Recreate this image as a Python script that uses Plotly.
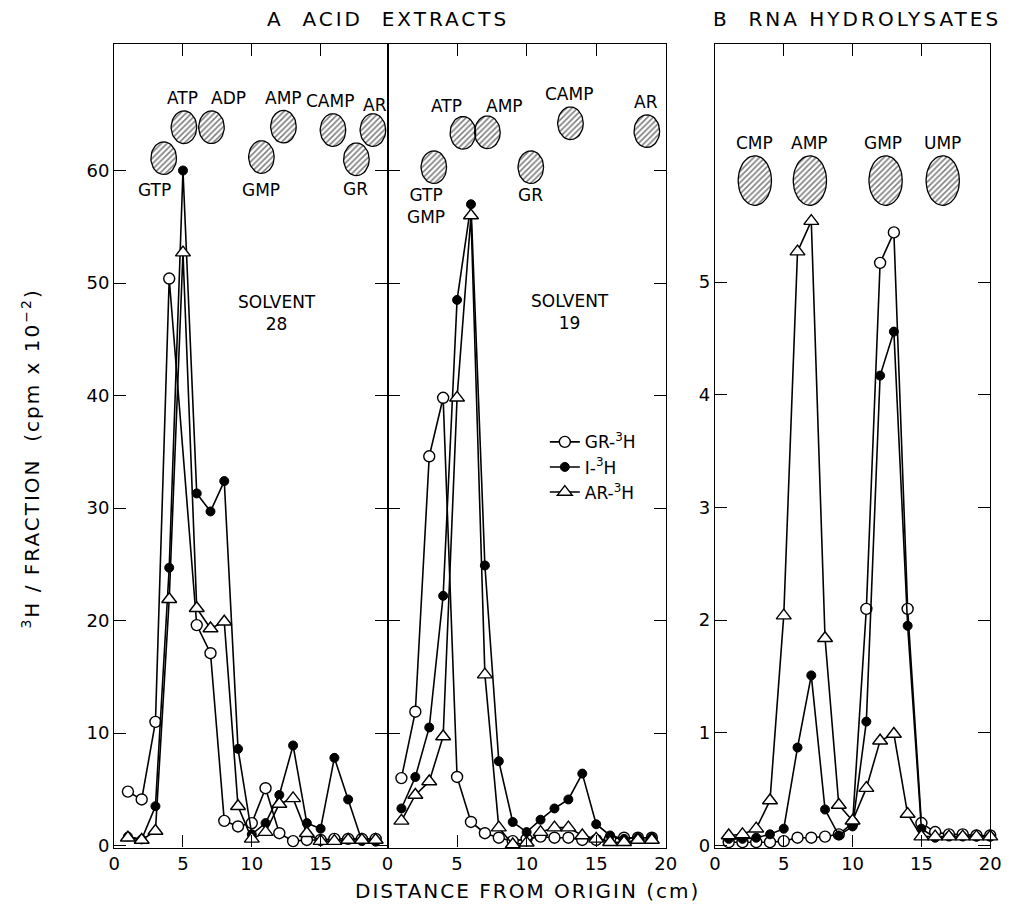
import numpy as np
import plotly.graph_objects as go

# ---------------- data ----------------
# Panel A, solvent 28 (acid extracts), distance from origin (cm)
x_s28 = list(range(1, 20))
gr_s28 = [4.8, 4.1, 11.0, 50.4, None, 19.6, 17.1, 2.2, 1.7, 2.0, 5.1, 1.1, 0.4, 0.5, 0.5, 0.6, 0.6, 0.6, 0.6]
i_s28 = [0.8, 0.55, 3.5, 24.7, 60.0, 31.3, 29.7, 32.4, 8.6, 1.0, 2.0, 4.5, 8.9, 2.0, 1.5, 7.8, 4.1, 0.4, 0.35]
ar_s28 = [0.7, 0.5, 1.3, 21.9, 52.7, 21.1, 19.3, 19.9, 3.5, 0.6, 1.2, 3.7, 4.2, 1.1, 0.4, 0.4, 0.5, 0.5, 0.5]

# Panel A, solvent 19
x_s19 = list(range(1, 20))
gr_s19 = [6.0, 11.9, 34.6, 39.8, 6.1, 2.1, 1.1, 0.7, 0.4, 0.6, 0.8, 0.7, 0.7, 0.5, 0.5, 0.6, 0.7, 0.7, 0.7]
i_s19 = [3.3, 6.1, 10.5, 22.2, 48.5, 57.0, 24.9, 7.5, 2.1, 1.2, 2.3, 3.3, 4.1, 6.4, 1.9, 0.9, 0.6, 0.7, 0.7]
ar_s19 = [2.2, 4.5, 5.7, 9.7, 39.8, 56.0, 15.2, 1.6, 0.1, 0.25, 1.2, 1.6, 1.6, 0.9, 0.6, 0.3, 0.3, 0.5, 0.5]

# Panel B, RNA hydrolysates
x_rna = list(range(1, 21))
gr_rna = [0.03, 0.03, 0.03, 0.03, 0.04, 0.07, 0.07, 0.08, 0.10, 0.20, 2.10, 5.17, 5.44, 2.10, 0.20, 0.12, 0.10, 0.10, 0.09, 0.09]
i_rna = [0.06, 0.06, 0.07, 0.10, 0.15, 0.87, 1.51, 0.32, 0.09, 0.17, 1.10, 4.17, 4.56, 1.95, 0.15, 0.07, 0.08, 0.08, 0.08, 0.08]
ar_rna = [0.09, 0.10, 0.15, 0.40, 2.04, 5.27, 5.54, 1.84, 0.36, 0.22, 0.51, 0.93, 0.99, 0.28, 0.08, 0.08, 0.08, 0.08, 0.08, 0.08]

# Marker spots (standards)
spots_s28_names = ["GTP", "ATP", "ADP", "GMP", "AMP", "CAMP", "GR", "AR"]
spots_s28_x = [3.6, 5.07, 7.07, 10.7, 12.3, 15.9, 17.6, 18.8]
spots_s28_y = [61.1, 63.85, 63.85, 61.2, 63.9, 63.6, 61.0, 63.6]

spots_s19_names = ["GTP<br>GMP", "ATP", "AMP", "GR", "CAMP", "AR"]
spots_s19_x = [3.33, 5.42, 7.18, 10.3, 13.15, 18.64]
spots_s19_y = [60.3, 63.35, 63.4, 60.3, 64.2, 63.5]

spots_rna_names = ["CMP", "AMP", "GMP", "UMP"]
spots_rna_x = [2.9, 6.9, 12.4, 16.55]
spots_rna_y = [5.9, 5.9, 5.9, 5.9]

series_names = ["GR-<sup>3</sup>H", "I-<sup>3</sup>H", "AR-<sup>3</sup>H"]

# label offsets (px) for spot labels
s28_dx = [-9, -1, 17, 0, 0, -3, -1, 2]
s28_dy = [-32, 29, 29, -33, 29, 29, -30, 25]
s19_dx = [-8, -16, 17, 0, -1, -1]
s19_dy = [-39, 27, 26, -28, 29, 29]
rna_dx = [0, 0, -3, 0]
rna_dy = [38, 38, 38, 38]

# ---------------- figure ----------------
W, H = 1015, 922
FONT = "DejaVu Sans"
fig = go.Figure()

marker_styles = [
    dict(symbol="circle", size=11, color="white", line=dict(color="black", width=1.4)),
    dict(symbol="circle", size=9, color="black", line=dict(color="black", width=1)),
    dict(symbol="triangle-up", size=13, color="white", line=dict(color="black", width=1.4)),
]

panels = [
    ("x", "y", x_s28, [gr_s28, i_s28, ar_s28], True),
    ("x2", "y2", x_s19, [gr_s19, i_s19, ar_s19], False),
    ("x3", "y3", x_rna, [gr_rna, i_rna, ar_rna], False),
]
for xa, ya, xs, ys_list, show in panels:
    for k, ys in enumerate(ys_list):
        fig.add_trace(go.Scatter(
            x=xs, y=ys, xaxis=xa, yaxis=ya, mode="lines+markers",
            line=dict(color="black", width=1.6), marker=marker_styles[k],
            connectgaps=True, name=series_names[k], showlegend=show,
            legendrank=k + 1, cliponaxis=False,
        ))


def ellipse_trace(cx_list, cy_list, a, b, xa, ya):
    t = np.linspace(0, 2 * np.pi, 48)
    xs, ys = [], []
    for cx, cy in zip(cx_list, cy_list):
        xs += list(cx + a * np.cos(t)) + [None]
        ys += list(cy + b * np.sin(t)) + [None]
    return go.Scatter(
        x=xs, y=ys, xaxis=xa, yaxis=ya, mode="lines", fill="toself",
        fillcolor="white",
        fillpattern=dict(shape="/", fgcolor="black", bgcolor="white", size=4, solidity=0.4),
        line=dict(color="black", width=1.3), showlegend=False, hoverinfo="skip",
    )


fig.add_trace(ellipse_trace(spots_s28_x, spots_s28_y, 0.93, 1.45, "x", "y"))
fig.add_trace(ellipse_trace(spots_s19_x, spots_s19_y, 0.92, 1.45, "x2", "y2"))
fig.add_trace(ellipse_trace(spots_rna_x, spots_rna_y, 1.21, 0.22, "x3", "y3"))

annotations = []
lab_font = dict(family=FONT, size=17, color="black")
for names, xs, ys, dxs, dys, xr, yr in [
    (spots_s28_names, spots_s28_x, spots_s28_y, s28_dx, s28_dy, "x", "y"),
    (spots_s19_names, spots_s19_x, spots_s19_y, s19_dx, s19_dy, "x2", "y2"),
    (spots_rna_names, spots_rna_x, spots_rna_y, rna_dx, rna_dy, "x3", "y3"),
]:
    for n, x0, y0, dx, dy in zip(names, xs, ys, dxs, dys):
        annotations.append(dict(text=n, x=x0, y=y0, xref=xr, yref=yr, xshift=dx, yshift=dy,
                                showarrow=False, font=lab_font, xanchor="center", yanchor="middle"))

big = dict(family=FONT, size=20, color="black")
annotations += [
    dict(text="SOLVENT<br>28", x=11.8, y=47.3, xref="x", yref="y", showarrow=False,
         font=dict(family=FONT, size=17, color="black")),
    dict(text="SOLVENT<br>19", x=13.1, y=47.4, xref="x2", yref="y2", showarrow=False,
         font=dict(family=FONT, size=17, color="black")),
    dict(text='<span style="letter-spacing:3px">A\u00a0\u00a0ACID\u00a0\u00a0EXTRACTS</span>',
         x=388 / W, y=1 - 19 / H, xref="paper", yref="paper", showarrow=False,
         xanchor="center", yanchor="middle", font=big),
    dict(text='<span style="letter-spacing:3px">B\u00a0\u00a0RNA HYDROLYSATES</span>',
         x=866 / W, y=1 - 19 / H, xref="paper", yref="paper", showarrow=False,
         xanchor="center", yanchor="middle", font=big),
    dict(text='<span style="letter-spacing:2px">DISTANCE FROM ORIGIN (cm)</span>',
         x=530 / W, y=1 - 899 / H, xref="paper", yref="paper", showarrow=False,
         xanchor="center", yanchor="middle", font=big),
    dict(text='<span style="letter-spacing:2px"><sup>3</sup>H / FRACTION  (cpm x 10<sup>\u22122</sup>)</span>',
         x=25 / W, y=1 - 463 / H, xref="paper", yref="paper", showarrow=False, textangle=-90,
         xanchor="center", yanchor="middle", font=big),
]

ydom = [(H - 855) / H, (H - 44) / H]
common = dict(showline=True, linewidth=1.2, linecolor="black", mirror="ticks", ticks="inside",
              ticklen=12, tickwidth=1.2, tickcolor="black", showgrid=False, zeroline=False,
              tickfont=dict(family=FONT, size=18, color="black"))

fig.update_layout(
    width=W, height=H, margin=dict(l=0, r=0, t=0, b=0),
    paper_bgcolor="white", plot_bgcolor="white",
    xaxis=dict(domain=[110 / W, 388 / W], range=[0, 19.86], anchor="y",
               tickvals=[0, 5, 10, 15], **common),
    yaxis=dict(domain=ydom, range=[-0.176, 71.28], anchor="x",
               tickvals=[0, 10, 20, 30, 40, 50, 60], **common),
    xaxis2=dict(domain=[388 / W, 671 / W], range=[0, 20], anchor="y2",
                tickvals=[0, 5, 10, 15, 20], **common),
    yaxis2=dict(domain=ydom, range=[-0.176, 71.28], anchor="x2",
                tickvals=[10, 20, 30, 40, 50, 60], showticklabels=False, **common),
    xaxis3=dict(domain=[721 / W, 1001 / W], range=[0, 20], anchor="y3",
                tickvals=[0, 5, 10, 15, 20], **common),
    yaxis3=dict(domain=ydom, range=[-0.0176, 7.115], anchor="x3",
                tickvals=[0, 1, 2, 3, 4, 5], **common),
    annotations=annotations,
    legend=dict(x=548 / W, y=1 - 428 / H, xanchor="left", yanchor="top",
                bgcolor="rgba(0,0,0,0)", font=dict(family=FONT, size=17, color="black"),
                tracegroupgap=0, itemwidth=30),
    showlegend=True,
)

fig.write_html("out.html")
